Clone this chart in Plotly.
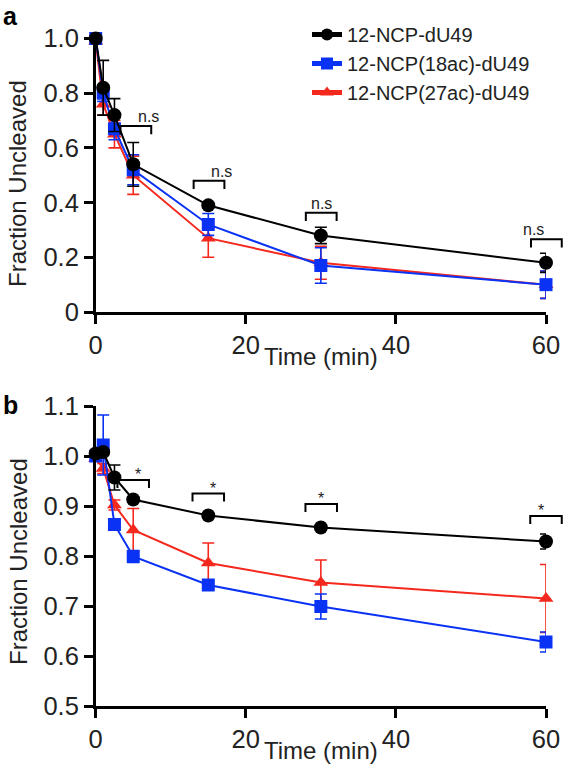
import plotly.graph_objects as go

# ---------------- data ----------------
time_min = [0, 1, 2.5, 5, 15, 30, 60]
series_names = ["12-NCP-dU49", "12-NCP(18ac)-dU49", "12-NCP(27ac)-dU49"]

a_black = [1.00, 0.82, 0.72, 0.54, 0.39, 0.28, 0.18]
a_black_err = [0.00, 0.10, 0.06, 0.08, 0.01, 0.03, 0.035]
a_blue = [1.00, 0.80, 0.67, 0.52, 0.32, 0.17, 0.10]
a_blue_err = [0.00, 0.03, 0.04, 0.055, 0.04, 0.065, 0.05]
a_red = [0.99, 0.76, 0.65, 0.50, 0.27, 0.18, 0.10]
a_red_err = [0.01, 0.04, 0.05, 0.07, 0.07, 0.06, 0.05]

b_black = [1.005, 1.008, 0.957, 0.913, 0.881, 0.857, 0.829]
b_black_err = [0.005, 0.005, 0.025, 0.005, 0.004, 0.005, 0.015]
b_blue = [1.00, 1.022, 0.863, 0.799, 0.742, 0.699, 0.628]
b_blue_err = [0.005, 0.06, 0.005, 0.012, 0.008, 0.025, 0.02]
b_red = [0.995, 0.975, 0.902, 0.852, 0.786, 0.747, 0.715]
b_red_err = [0.005, 0.01, 0.01, 0.043, 0.04, 0.045, 0.068]

sig_times = [5, 15, 30, 60]
a_sig_labels = ["n.s", "n.s", "n.s", "n.s"]
b_sig_labels = ["*", "*", "*", "*"]

x_ticks = [0, 20, 40, 60]
a_y_ticks = [0, 0.2, 0.4, 0.6, 0.8, 1.0]
a_y_ticktext = ["0", "0.2", "0.4", "0.6", "0.8", "1.0"]
b_y_ticks = [0.5, 0.6, 0.7, 0.8, 0.9, 1.0, 1.1]
b_y_ticktext = ["0.5", "0.6", "0.7", "0.8", "0.9", "1.0", "1.1"]

# ---------------- style ----------------
FONT = "Arial, Liberation Sans, Helvetica, sans-serif"
W, H = 563, 772
COLORS = ["#000000", "#0a32f5", "#f5281e"]
SYMBOLS = ["circle", "square", "triangle-up"]
X_RANGE = [0, 60]
A_RANGE = [0, 1.0]
B_RANGE = [0.5, 1.1]

def px_x(p):
    return p / W

def px_y(p):
    return 1 - p / H

fig = go.Figure()

panels = [
    ("x", "y", [a_black, a_blue, a_red], [a_black_err, a_blue_err, a_red_err], True),
    ("x2", "y2", [b_black, b_blue, b_red], [b_black_err, b_blue_err, b_red_err], False),
]

for xa, ya, vals, errs, show_leg in panels:
    for i in [2, 1, 0]:
        fig.add_trace(go.Scatter(
            x=time_min, y=vals[i], xaxis=xa, yaxis=ya,
            mode="lines+markers", name=series_names[i],
            showlegend=show_leg, cliponaxis=False,
            line=dict(color=COLORS[i], width=2),
            marker=dict(symbol=SYMBOLS[i], size=14 if i == 0 else 13, color=COLORS[i],
                        line=dict(width=0)),
            error_y=dict(type="data", array=errs[i], color=COLORS[i],
                         thickness=1.6, width=6),
        ))

axis_common = dict(showline=True, linecolor="black", linewidth=2.5, ticks="outside",
                   ticklen=9, tickwidth=2.5, tickcolor="black", showgrid=False,
                   zeroline=False, automargin=False,
                   tickfont=dict(family=FONT, size=25.5, color="#222"))

xdom = [px_x(95.7), px_x(546)]
fig.update_layout(
    width=W, height=H, margin=dict(l=0, r=0, t=0, b=0, autoexpand=False),
    paper_bgcolor="white", plot_bgcolor="white",
    font=dict(family=FONT, color="#222"),
    xaxis=dict(domain=xdom, anchor="y", range=X_RANGE, tickvals=x_ticks, **axis_common),
    yaxis=dict(domain=[px_y(312), px_y(38.5)], anchor="x", range=A_RANGE,
               tickvals=a_y_ticks, ticktext=a_y_ticktext, **axis_common),
    xaxis2=dict(domain=xdom, anchor="y2", range=X_RANGE, tickvals=x_ticks, **axis_common),
    yaxis2=dict(domain=[px_y(706), px_y(406)], anchor="x2", range=B_RANGE,
                tickvals=b_y_ticks, ticktext=b_y_ticktext, **axis_common),
    legend=dict(x=px_x(307), y=px_y(15), xanchor="left", yanchor="top",
                traceorder="reversed", bgcolor="rgba(0,0,0,0)",
                font=dict(family=FONT, size=20, color="#222"),
                tracegroupgap=0, itemsizing="constant"),
    showlegend=True,
)

def fx(t):
    return (t - X_RANGE[0]) / (X_RANGE[1] - X_RANGE[0])

def fy(v, rng):
    return (v - rng[0]) / (rng[1] - rng[0])

# significance brackets (axis-domain coordinates so they are not clipped)
a_bracket_y = [0.68, 0.48, 0.363, 0.266]
b_bracket_y = [0.952, 0.925, 0.904, 0.880]
a_centers = [5.35, 15.1, 30.05, 60.05]
b_centers = [5.0, 15.0, 30.05, 60.0]
shapes = []
annos = []
for ax, rng, centers, ybs, labs, half, drop, fsize, ysh in [
        ("", A_RANGE, a_centers, a_bracket_y, a_sig_labels, 2.05, 0.03, 16, -1),
        ("2", B_RANGE, b_centers, b_bracket_y, b_sig_labels, 2.1, 0.016, 16, -5)]:
    xr, yr = f"x{ax} domain", f"y{ax} domain"
    for c, yb, lab in zip(centers, ybs, labs):
        x0, x1 = fx(c - half), fx(c + half)
        y0, y1 = fy(yb - drop, rng), fy(yb, rng)
        shapes.append(dict(type="path", xref=xr, yref=yr,
                           path=f"M {x0},{y0} L {x0},{y1} L {x1},{y1} L {x1},{y0}",
                           line=dict(color="black", width=2)))
        annos.append(dict(x=fx(c), y=y1, xref=xr, yref=yr, text=lab, showarrow=False,
                          yanchor="bottom", yshift=ysh,
                          font=dict(family=FONT, size=fsize, color="#222")))

title_font = dict(family=FONT, size=24, color="#222")
annos += [
    dict(x=px_x(320.85), y=px_y(356), xref="paper", yref="paper", text="Time (min)",
         showarrow=False, yanchor="middle", xanchor="center", font=title_font),
    dict(x=px_x(320.85), y=px_y(750), xref="paper", yref="paper", text="Time (min)",
         showarrow=False, yanchor="middle", xanchor="center", font=title_font),
    dict(x=px_x(18), y=px_y(184), xref="paper", yref="paper", text="Fraction Uncleaved",
         showarrow=False, textangle=-90, xanchor="center", yanchor="middle", font=title_font),
    dict(x=px_x(18), y=px_y(562), xref="paper", yref="paper", text="Fraction Uncleaved",
         showarrow=False, textangle=-90, xanchor="center", yanchor="middle", font=title_font),
    dict(x=px_x(1), y=px_y(0), xref="paper", yref="paper", text="<b>a</b>",
         showarrow=False, xanchor="left", yanchor="top",
         font=dict(family=FONT, size=25, color="black")),
    dict(x=px_x(1), y=px_y(405), xref="paper", yref="paper", text="<b>b</b>",
         showarrow=False, xanchor="left", yanchor="middle",
         font=dict(family=FONT, size=25, color="black")),
]
fig.update_layout(shapes=shapes, annotations=annos)

fig.write_html("out.html", config={"displayModeBar": False},
               post_script="document.body.style.margin='0';document.body.style.overflow='hidden';")
